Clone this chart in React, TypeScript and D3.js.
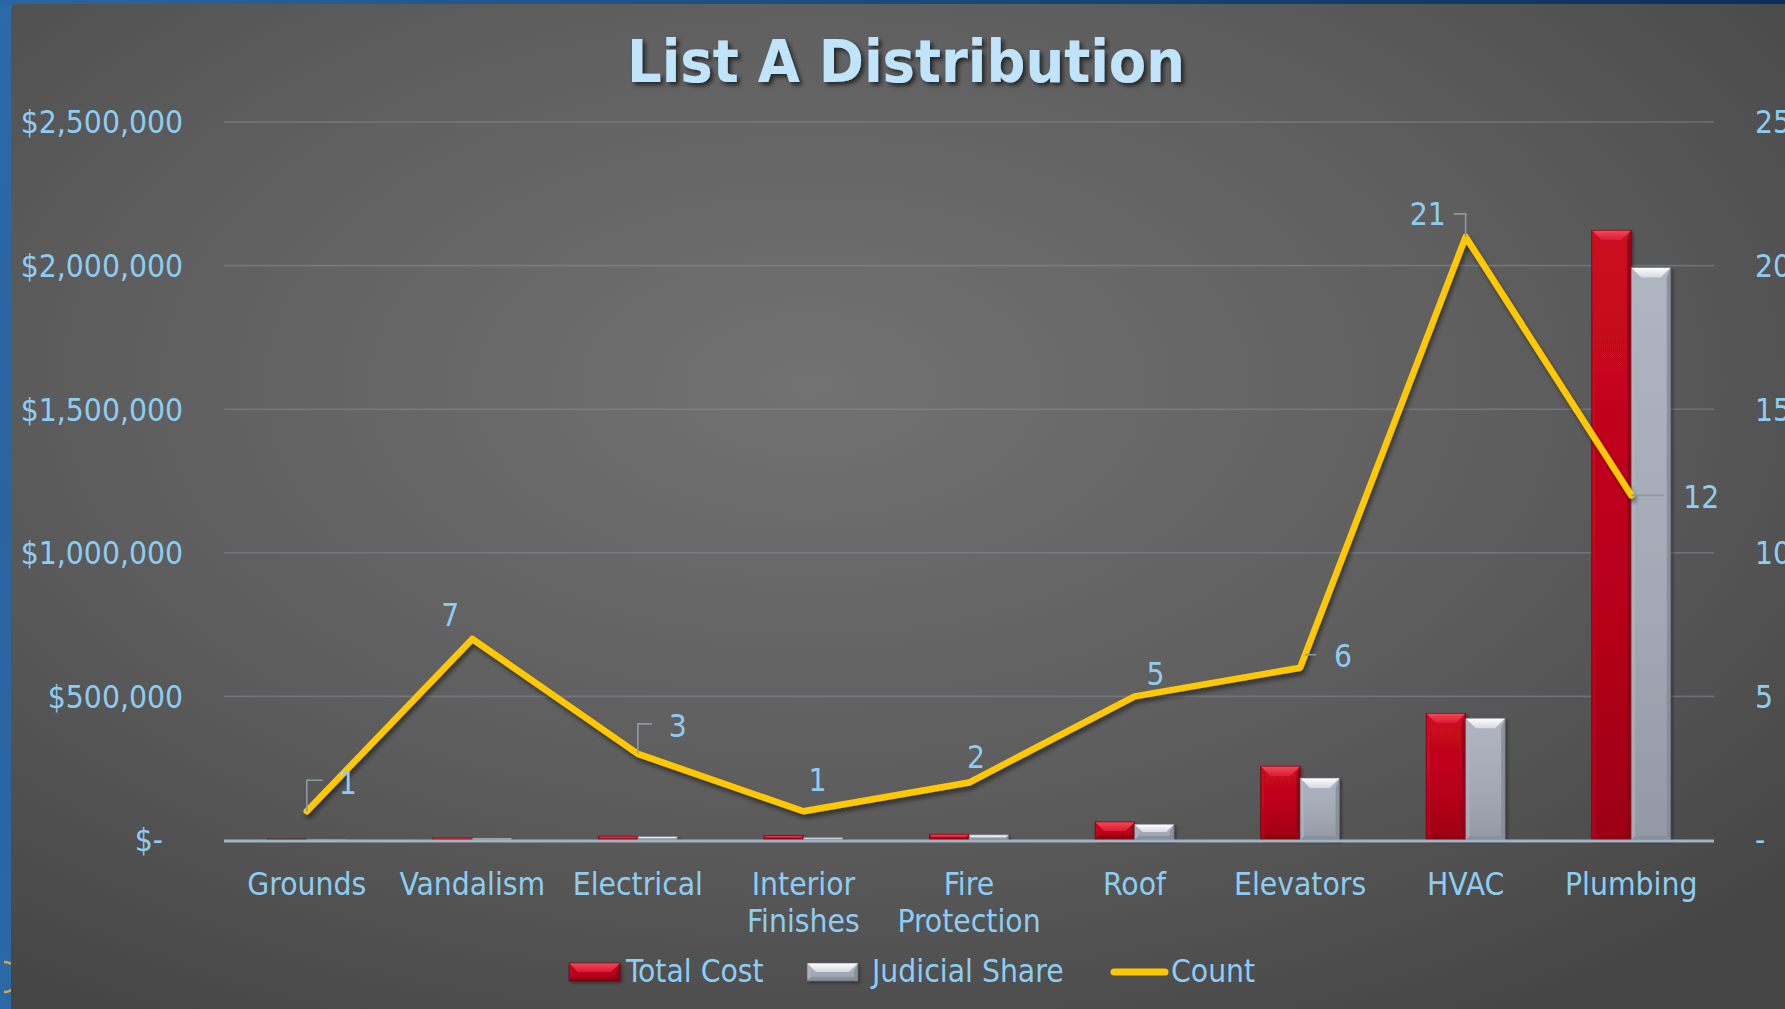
import React from "react";
import * as d3 from "d3";

const titleText = "List A Distribution";
const categories = [
  "Grounds",
  "Vandalism",
  "Electrical",
  "Interior Finishes",
  "Fire Protection",
  "Roof",
  "Elevators",
  "HVAC",
  "Plumbing",
];
const totalCost = [3500, 7000, 13000, 16000, 20000, 63000, 257000, 441000, 2123000];
const judicialShare = [3000, 6000, 12000, 9000, 18000, 55000, 216000, 424000, 1993000];
const counts = [1, 7, 3, 1, 2, 5, 6, 21, 12];
const costTicks = [0, 500000, 1000000, 1500000, 2000000, 2500000];
const countTicks = [0, 5, 10, 15, 20, 25];
const seriesNames = ["Total Cost", "Judicial Share", "Count"];

// label placement (styling) relative to each count point
const labelOffsets = [
  [41, -29], [-22, -24], [40, -28], [14, -32], [7, -26], [21, -23], [43, -12], [-38, -23], [70, 1],
];
const leaderPaths: number[][][] = [
  [[0, 0], [0, -31], [16, -31]],
  [],
  [[0, 0], [0, -30], [14, -30]],
  [],
  [],
  [],
  [[5, -13], [16, -13]],
  [[0, 0], [0, -23], [-12, -23]],
  [[0, 0], [33, 0]],
];

const W = 1785;
const H = 1009;
const plotLeft = 224;
const plotRight = 1714;
const plotTop = 122;
const plotBottom = 840;
const labelColor = "#8ECDF2";
const labelFont = "'DejaVu Sans Condensed', 'DejaVu Sans', sans-serif";
const fs = 31.5;

function BevelBar({ x, y, w, h, kind }: { x: number; y: number; w: number; h: number; kind: "red" | "grey" }) {
  if (h <= 0) return null;
  const pal =
    kind === "red"
      ? { main: "url(#redMain)", top: "url(#redTop)", right: "#8c0012", left: "#c4081f", bottom: "#88000f", stroke: "#5a0008" }
      : { main: "url(#greyMain)", top: "url(#greyTop)", right: "#858a96", left: "#b0b5c1", bottom: "#848a97", stroke: "#5c606a" };
  const b = Math.min(10, h / 2, w / 3);
  const s = Math.min(4, h / 2);
  return (
    <g filter="url(#barShadow)">
      <rect x={x} y={y} width={w} height={h} fill={pal.main} />
      <polygon points={`${x},${y + h} ${x + s},${y + h - s} ${x + w - s},${y + h - s} ${x + w},${y + h}`} fill={pal.bottom} opacity={0.7} />
      <polygon points={`${x + w},${y} ${x + w},${y + h} ${x + w - s},${y + h - s} ${x + w - s},${y + b}`} fill={pal.right} opacity={0.8} />
      <polygon points={`${x},${y} ${x + s},${y + b} ${x + s},${y + h - s} ${x},${y + h}`} fill={pal.left} opacity={0.6} />
      <polygon points={`${x},${y} ${x + w},${y} ${x + w - b},${y + b} ${x + b},${y + b}`} fill={pal.top} />
      <rect x={x} y={y} width={w} height={h} fill="none" stroke={pal.stroke} strokeWidth={0.8} strokeOpacity={0.7} />
    </g>
  );
}

export default function App() {
  const x = d3.scaleBand<string>().domain(categories).range([plotLeft, plotRight]).padding(0);
  const bw = x.bandwidth();
  const barW = 39.5;
  const inner = d3.scaleBand<string>().domain(["total", "judicial"]).range([bw / 2 - barW, bw / 2 + barW]).padding(0);
  const yCost = d3.scaleLinear().domain([0, 2500000]).range([plotBottom, plotTop]);
  const yCount = d3.scaleLinear().domain([0, 25]).range([plotBottom, plotTop]);
  const fmtCost = (v: number) => (v === 0 ? "$-" : d3.format("$,")(v));
  const fmtCount = (v: number) => (v === 0 ? "-" : String(v));

  const pts: [number, number][] = counts.map((c, i) => [x(categories[i])! + bw / 2, yCount(c)]);
  const line = d3.line()(pts) || "";

  return (
    <svg width={W} height={H} style={{ position: "absolute", left: 0, top: 0 }} xmlns="http://www.w3.org/2000/svg">
      <defs>
        <radialGradient id="bg" cx="0.45" cy="0.38" r="0.75">
          <stop offset="0" stopColor="#727272" />
          <stop offset="0.55" stopColor="#5d5d5d" />
          <stop offset="1" stopColor="#454545" />
        </radialGradient>
        <linearGradient id="blueSide" x1="0" y1="0" x2="0" y2="1">
          <stop offset="0" stopColor="#2d6aa8" />
          <stop offset="0.5" stopColor="#2a63a0" />
          <stop offset="1" stopColor="#2b68a6" />
        </linearGradient>
        <linearGradient id="blueTop" x1="0" y1="0" x2="1" y2="0">
          <stop offset="0" stopColor="#2a66a4" />
          <stop offset="0.4" stopColor="#1d4f86" />
          <stop offset="1" stopColor="#0b2f5c" />
        </linearGradient>
        <linearGradient id="redMain" x1="0" y1="0" x2="0" y2="1">
          <stop offset="0" stopColor="#cc0820" />
          <stop offset="0.6" stopColor="#b8041a" />
          <stop offset="1" stopColor="#9c0013" />
        </linearGradient>
        <linearGradient id="redTop" x1="0" y1="0" x2="0" y2="1">
          <stop offset="0" stopColor="#f24a5a" />
          <stop offset="1" stopColor="#dc1a30" />
        </linearGradient>
        <linearGradient id="greyMain" x1="0" y1="0" x2="0" y2="1">
          <stop offset="0" stopColor="#b0b5c2" />
          <stop offset="0.6" stopColor="#a3a8b5" />
          <stop offset="1" stopColor="#9398a5" />
        </linearGradient>
        <linearGradient id="greyTop" x1="0" y1="0" x2="0" y2="1">
          <stop offset="0" stopColor="#ffffff" />
          <stop offset="1" stopColor="#d6d9e0" />
        </linearGradient>
        <filter id="barShadow" x="-20%" y="-20%" width="150%" height="150%">
          <feDropShadow dx="2" dy="2" stdDeviation="1.5" floodColor="#000" floodOpacity="0.35" />
        </filter>
        <filter id="lineShadow" x="-10%" y="-10%" width="120%" height="130%">
          <feDropShadow dx="2" dy="4" stdDeviation="2" floodColor="#000" floodOpacity="0.45" />
        </filter>
        <filter id="titleShadow" x="-10%" y="-30%" width="120%" height="160%">
          <feDropShadow dx="3" dy="3" stdDeviation="2" floodColor="#000" floodOpacity="0.6" />
        </filter>
      </defs>

      {/* surrounding slide background */}
      <rect x={0} y={0} width={W} height={H} fill="url(#blueSide)" />
      <rect x={0} y={0} width={W} height={6} fill="url(#blueTop)" />
      <path d="M -6 962 A 15 15 0 0 1 -6 992" transform="translate(10,0)" fill="none" stroke="#c9a94e" strokeWidth={2.5} />

      {/* chart panel */}
      <path d={`M 11 10 Q 11 4 17 4 L ${W} 4 L ${W} ${H} L 11 ${H} Z`} fill="url(#bg)" />

      {/* title */}
      <text
        x={906}
        y={82}
        textAnchor="middle"
        fontFamily="'DejaVu Sans', Verdana, sans-serif"
        fontWeight="bold"
        fontSize={58}
        fill="#BFE4FB"
        textLength={558}
        lengthAdjust="spacingAndGlyphs"
        filter="url(#titleShadow)"
      >
        {titleText}
      </text>

      {/* gridlines */}
      {costTicks.filter((t) => t > 0).map((t) => (
        <line key={t} x1={plotLeft} x2={plotRight} y1={yCost(t)} y2={yCost(t)} stroke="#8c959d" strokeOpacity={0.45} strokeWidth={1.6} />
      ))}

      {/* left axis labels */}
      {costTicks.map((t) => (
        <text
          key={t}
          x={t === 0 ? 163 : 183}
          y={yCost(t)}
          dy="0.36em"
          textAnchor="end"
          fontFamily={labelFont}
          fontSize={fs}
          fill={labelColor}
        >
          {fmtCost(t)}
        </text>
      ))}

      {/* right axis labels */}
      {countTicks.map((t) => (
        <text key={t} x={1755} y={yCount(t)} dy="0.36em" textAnchor="start" fontFamily={labelFont} fontSize={fs} fill={labelColor}>
          {fmtCount(t)}
        </text>
      ))}

      {/* bars */}
      {categories.map((c, i) => {
        const x0 = x(c)!;
        const hT = plotBottom - yCost(totalCost[i]);
        const hJ = plotBottom - yCost(judicialShare[i]);
        return (
          <g key={c}>
            <BevelBar x={x0 + inner("total")!} y={yCost(totalCost[i])} w={inner.bandwidth()} h={hT} kind="red" />
            <BevelBar x={x0 + inner("judicial")!} y={yCost(judicialShare[i])} w={inner.bandwidth()} h={hJ} kind="grey" />
          </g>
        );
      })}

      {/* baseline */}
      <line x1={plotLeft} x2={plotRight} y1={plotBottom + 1} y2={plotBottom + 1} stroke="#9fb4c2" strokeWidth={3} />

      {/* category labels */}
      {categories.map((c) => {
        const words = c.split(" ");
        return (
          <text key={c} x={x(c)! + bw / 2} y={895} textAnchor="middle" fontFamily={labelFont} fontSize={fs} fill={labelColor}>
            {words.map((w, k) => (
              <tspan key={k} x={x(c)! + bw / 2} dy={k === 0 ? 0 : 37}>
                {w}
              </tspan>
            ))}
          </text>
        );
      })}

      {/* count line */}
      <path d={line} fill="none" stroke="#FFC800" strokeWidth={6.5} strokeLinejoin="round" strokeLinecap="round" filter="url(#lineShadow)" />

      {/* leader lines */}
      {pts.map((p, i) =>
        leaderPaths[i].length ? (
          <polyline
            key={i}
            points={leaderPaths[i].map(([dx, dy]) => `${p[0] + dx},${p[1] + dy}`).join(" ")}
            fill="none"
            stroke="#8b9ba6"
            strokeWidth={1.6}
          />
        ) : null
      )}

      {/* data labels */}
      {pts.map((p, i) => (
        <text
          key={i}
          x={p[0] + labelOffsets[i][0]}
          y={p[1] + labelOffsets[i][1]}
          dy="0.36em"
          textAnchor="middle"
          fontFamily={labelFont}
          fontSize={fs}
          fill={labelColor}
        >
          {counts[i]}
        </text>
      ))}

      {/* legend */}
      <g>
        <BevelBar x={569} y={963} w={51} h={18} kind="red" />
        <text x={626} y={982} fontFamily={labelFont} fontSize={fs} fill={labelColor}>
          {seriesNames[0]}
        </text>
        <BevelBar x={807} y={963} w={51} h={18} kind="grey" />
        <text x={872} y={982} fontFamily={labelFont} fontSize={fs} fill={labelColor}>
          {seriesNames[1]}
        </text>
        <line x1={1114} x2={1165} y1={972} y2={972} stroke="#FFC800" strokeWidth={7} strokeLinecap="round" />
        <text x={1171} y={982} fontFamily={labelFont} fontSize={fs} fill={labelColor}>
          {seriesNames[2]}
        </text>
      </g>
    </svg>
  );
}
